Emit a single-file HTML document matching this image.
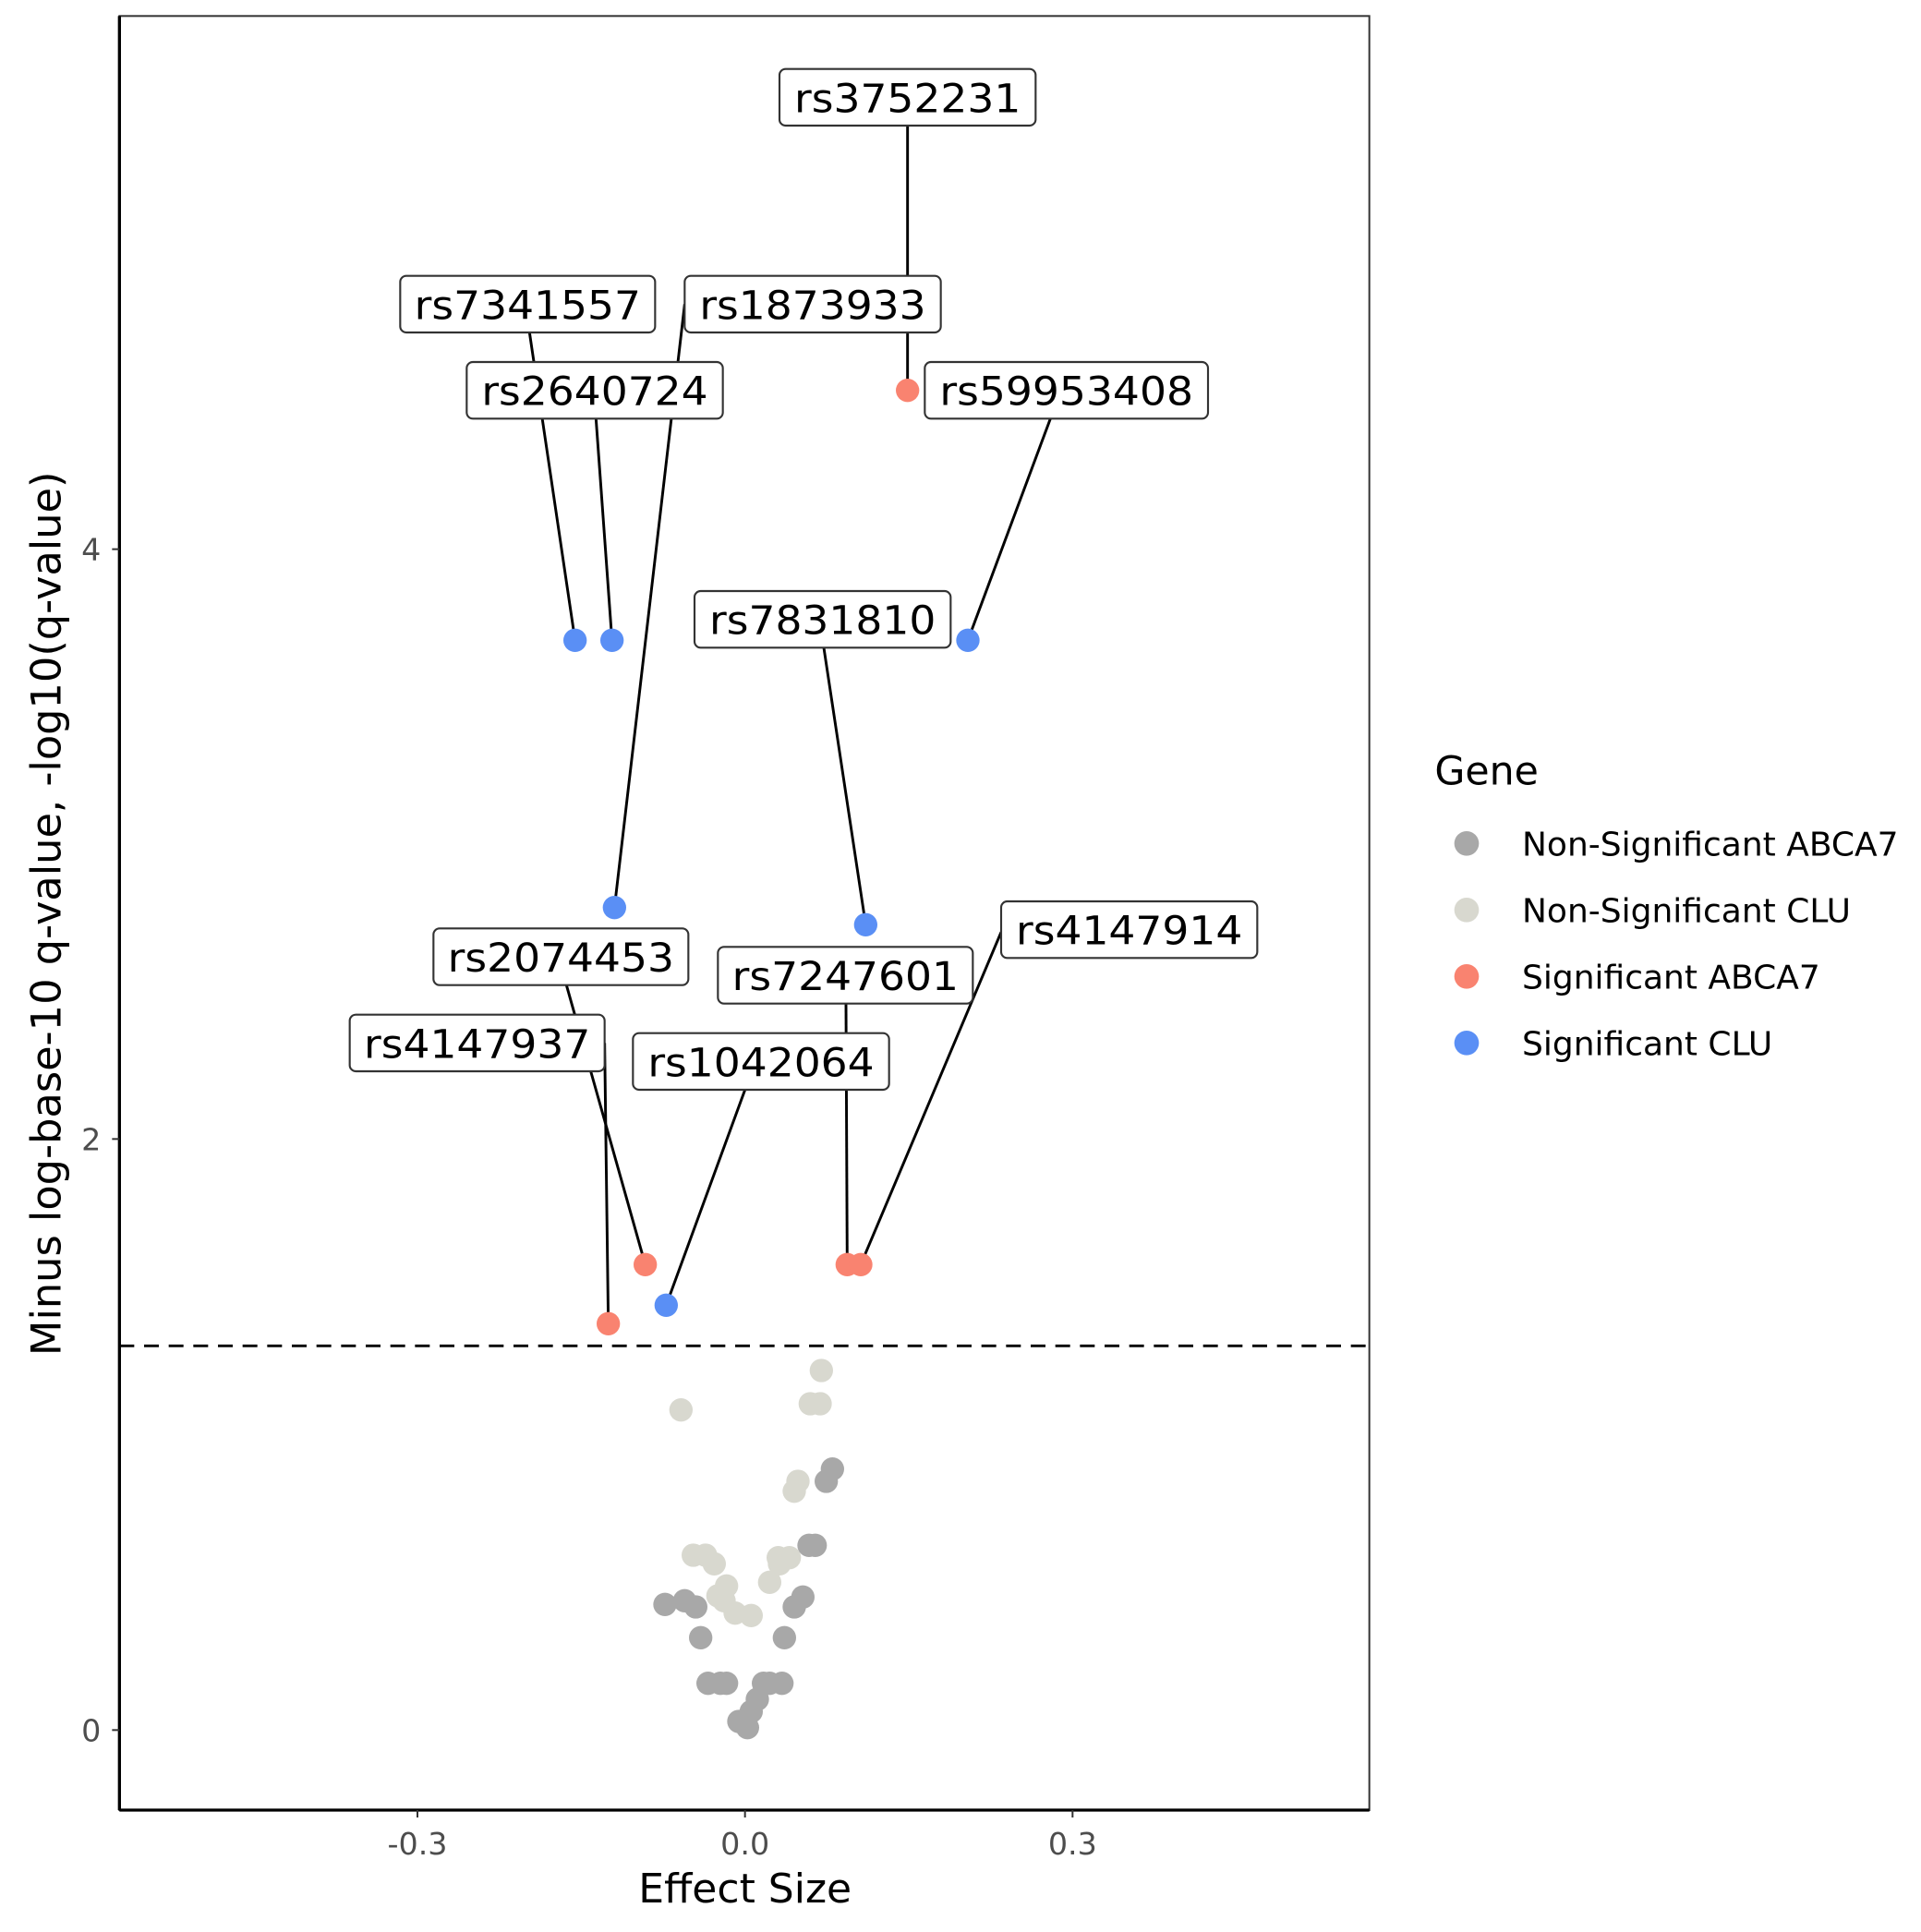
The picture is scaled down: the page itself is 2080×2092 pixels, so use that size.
<!DOCTYPE html>
<html><head><meta charset="utf-8"><style>html,body{margin:0;padding:0;background:#fff}svg{display:block}</style></head>
<body>
<svg width="2080" height="2092" viewBox="0 0 1560 1569" xmlns="http://www.w3.org/2000/svg" font-family="DejaVu Sans, Liberation Sans, sans-serif">
<rect width="1560" height="1569" fill="#fff"/>
<line x1="97" y1="1093" x2="1112" y2="1093" stroke="#000" stroke-width="2.2" stroke-dasharray="12,8"/>
<g fill="#d8d8cf">
<circle cx="667" cy="1113" r="9.5"/><circle cx="553" cy="1145" r="9.5"/><circle cx="658" cy="1140" r="9.5"/><circle cx="666" cy="1140" r="9.5"/>
<circle cx="648" cy="1203" r="9.5"/><circle cx="645" cy="1211" r="9.5"/><circle cx="563" cy="1263" r="9.5"/><circle cx="573" cy="1263" r="9.5"/>
<circle cx="580" cy="1270" r="9.5"/><circle cx="590" cy="1288" r="9.5"/><circle cx="583" cy="1296" r="9.5"/><circle cx="597" cy="1310" r="9.5"/>
<circle cx="610" cy="1312" r="9.5"/><circle cx="625" cy="1285" r="9.5"/><circle cx="632" cy="1265" r="9.5"/><circle cx="641" cy="1265" r="9.5"/>
<circle cx="633" cy="1270" r="9.5"/><circle cx="588" cy="1300" r="9.5"/>
</g>
<g fill="#a8a8a8">
<circle cx="676" cy="1193" r="9.5"/><circle cx="671" cy="1203" r="9.5"/><circle cx="657" cy="1255" r="9.5"/><circle cx="662" cy="1255" r="9.5"/>
<circle cx="540" cy="1303" r="9.5"/><circle cx="556" cy="1300" r="9.5"/><circle cx="565" cy="1305" r="9.5"/><circle cx="569" cy="1330" r="9.5"/>
<circle cx="652" cy="1297" r="9.5"/><circle cx="645" cy="1305" r="9.5"/><circle cx="637" cy="1330" r="9.5"/><circle cx="575" cy="1367" r="9.5"/>
<circle cx="585" cy="1367" r="9.5"/><circle cx="590" cy="1367" r="9.5"/><circle cx="620" cy="1367" r="9.5"/><circle cx="635" cy="1367" r="9.5"/>
<circle cx="625" cy="1367" r="9.5"/><circle cx="615" cy="1380" r="9.5"/><circle cx="610" cy="1390" r="9.5"/><circle cx="600" cy="1398" r="9.5"/>
<circle cx="607" cy="1403" r="9.5"/>
</g>
<g stroke="#000" stroke-width="2.2">
<line x1="737" y1="102" x2="737" y2="317"/>
<line x1="430" y1="270" x2="467" y2="520"/>
<line x1="556" y1="247" x2="499" y2="737"/>
<line x1="484" y1="340" x2="497" y2="520"/>
<line x1="853" y1="340" x2="786" y2="520"/>
<line x1="669" y1="526" x2="703" y2="751"/>
<line x1="460" y1="800" x2="524" y2="1027"/>
<line x1="687" y1="815" x2="688" y2="1027"/>
<line x1="813" y1="757" x2="699" y2="1027"/>
<line x1="491" y1="847" x2="494" y2="1075"/>
<line x1="605" y1="885" x2="541" y2="1060"/>
</g>
<g fill="#5a8ff5">
<circle cx="467" cy="520" r="9.5"/><circle cx="497" cy="520" r="9.5"/><circle cx="786" cy="520" r="9.5"/>
<circle cx="499" cy="737" r="9.5"/><circle cx="703" cy="751" r="9.5"/><circle cx="541" cy="1060" r="9.5"/>
</g>
<g fill="#f98370">
<circle cx="737" cy="317" r="9.5"/><circle cx="524" cy="1027" r="9.5"/><circle cx="494" cy="1075" r="9.5"/>
<circle cx="688" cy="1027" r="9.5"/><circle cx="699" cy="1027" r="9.5"/>
</g>
<g fill="#fff" stroke="#333" stroke-width="1.6">
<rect x="633" y="56" width="208" height="46" rx="5"/>
<rect x="325" y="224" width="207" height="46" rx="5"/>
<rect x="556" y="224" width="208" height="46" rx="5"/>
<rect x="379" y="294" width="208" height="46" rx="5"/>
<rect x="751" y="294" width="230" height="46" rx="5"/>
<rect x="564" y="480" width="208" height="46" rx="5"/>
<rect x="352" y="754" width="207" height="46" rx="5"/>
<rect x="583" y="769" width="207" height="46" rx="5"/>
<rect x="813" y="732" width="208" height="46" rx="5"/>
<rect x="284" y="824" width="207" height="46" rx="5"/>
<rect x="514" y="839" width="208" height="46" rx="5"/>
</g>
<g font-size="32" fill="#000" text-anchor="middle">
<text x="737" y="91" textLength="184" lengthAdjust="spacingAndGlyphs">rs3752231</text>
<text x="428.5" y="259" textLength="184" lengthAdjust="spacingAndGlyphs">rs7341557</text>
<text x="660" y="259" textLength="184" lengthAdjust="spacingAndGlyphs">rs1873933</text>
<text x="483" y="329" textLength="184" lengthAdjust="spacingAndGlyphs">rs2640724</text>
<text x="866" y="329" textLength="206" lengthAdjust="spacingAndGlyphs">rs59953408</text>
<text x="668" y="515" textLength="184" lengthAdjust="spacingAndGlyphs">rs7831810</text>
<text x="455.5" y="789" textLength="184" lengthAdjust="spacingAndGlyphs">rs2074453</text>
<text x="686.5" y="804" textLength="184" lengthAdjust="spacingAndGlyphs">rs7247601</text>
<text x="917" y="767" textLength="184" lengthAdjust="spacingAndGlyphs">rs4147914</text>
<text x="387.5" y="859" textLength="184" lengthAdjust="spacingAndGlyphs">rs4147937</text>
<text x="618" y="874" textLength="184" lengthAdjust="spacingAndGlyphs">rs1042064</text>
</g>
<rect x="97" y="13" width="1015" height="1457" fill="none" stroke="#333" stroke-width="1.5"/>
<line x1="97" y1="1470" x2="1112" y2="1470" stroke="#000" stroke-width="2.5"/>
<line x1="97" y1="13" x2="97" y2="1470" stroke="#000" stroke-width="2.5"/>
<g stroke="#333" stroke-width="1.5">
<line x1="91" y1="1405" x2="97" y2="1405"/><line x1="91" y1="925" x2="97" y2="925"/><line x1="91" y1="446" x2="97" y2="446"/>
<line x1="339" y1="1470" x2="339" y2="1476"/><line x1="605" y1="1470" x2="605" y2="1476"/><line x1="871" y1="1470" x2="871" y2="1476"/>
</g>
<g font-size="25" fill="#4d4d4d">
<text x="82" y="1414" text-anchor="end">0</text>
<text x="82" y="934" text-anchor="end">2</text>
<text x="82" y="455" text-anchor="end">4</text>
<text x="339" y="1506" text-anchor="middle">-0.3</text>
<text x="605" y="1506" text-anchor="middle">0.0</text>
<text x="871" y="1506" text-anchor="middle">0.3</text>
</g>
<text x="605" y="1545" font-size="33" text-anchor="middle">Effect Size</text>
<text transform="translate(49,742) rotate(-90)" font-size="33.5" text-anchor="middle">Minus log-base-10 q-value, -log10(q-value)</text>
<text x="1165" y="637" font-size="32">Gene</text>
<circle cx="1191" cy="685" r="10" fill="#a8a8a8"/>
<circle cx="1191" cy="739" r="10" fill="#d8d8cf"/>
<circle cx="1191" cy="793" r="10" fill="#f98370"/>
<circle cx="1191" cy="847" r="10" fill="#5a8ff5"/>
<g font-size="27">
<text x="1236" y="695">Non-Significant ABCA7</text>
<text x="1236" y="749">Non-Significant CLU</text>
<text x="1236" y="803">Significant ABCA7</text>
<text x="1236" y="857">Significant CLU</text>
</g>
</svg>
</body></html>
